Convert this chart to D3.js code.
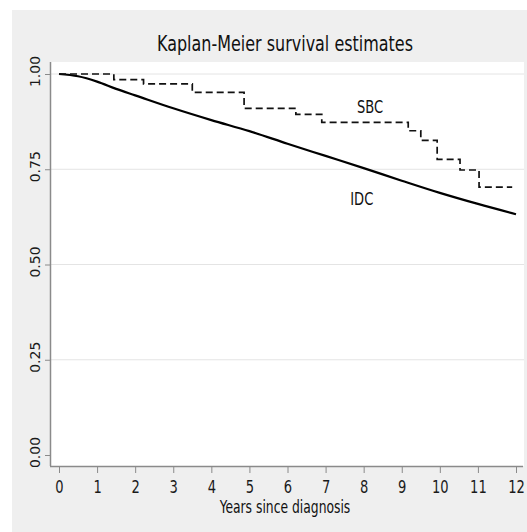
<!DOCTYPE html>
<html>
<head>
<meta charset="utf-8">
<script src="https://cdn.jsdelivr.net/npm/d3@7"></script>
<style>
  html, body { margin: 0; padding: 0; background: #ffffff; }
  svg { display: block; }
  .narrow { font-family: "Liberation Sans Narrow", "Arial Narrow", "DejaVu Sans Condensed", sans-serif; font-stretch: condensed; }
</style>
</head>
<body>
<script>
// Survival estimates (years since diagnosis -> survival probability)
const idcYears    = [0, 0.5, 1, 1.5, 2, 3, 4, 5, 6, 7, 8, 9, 10, 11, 12];
const idcSurvival = [1.000, 0.994, 0.980, 0.961, 0.944, 0.910, 0.879, 0.850, 0.817, 0.785, 0.753, 0.720, 0.688, 0.659, 0.632];

// Step function for the SBC group (time of each drop and survival after it)
const sbcTimes    = [0, 1.44, 2.22, 3.5, 4.86, 6.22, 6.9, 9.17, 9.5, 9.93, 10.53, 11.03, 11.9];
const sbcSurvival = [1.000, 0.985, 0.974, 0.952, 0.910, 0.894, 0.873, 0.851, 0.826, 0.776, 0.748, 0.703, 0.703];

const xTicks = [0, 1, 2, 3, 4, 5, 6, 7, 8, 9, 10, 11, 12];
const yTicks = [0, 0.25, 0.5, 0.75, 1];
const gridTicks = [0.25, 0.5, 0.75, 1];

const curveNames = ["SBC", "IDC"];
const curveLabelYears = [8.17, 7.95];
const curveLabelSurvival = [0.914, 0.674];

const chartTitle = "Kaplan-Meier survival estimates";
const xTitle = "Years since diagnosis";

// Layout
const W = 527, H = 532;
const plot = { left: 50, right: 524, top: 62, bottom: 466 };

const svg = d3.select("body").append("svg").attr("width", W).attr("height", H);

// Graph region background
svg.append("rect").attr("x", 12).attr("y", 10).attr("width", W - 12).attr("height", H - 10).attr("fill", "#efefef");
svg.append("rect").attr("x", plot.left).attr("y", plot.top)
  .attr("width", plot.right - plot.left).attr("height", plot.bottom - plot.top).attr("fill", "#ffffff");

const x = d3.scaleLinear().domain([0, 12]).range([59, 516]);
const y = d3.scaleLinear().domain([0, 1]).range([455, 74]);

// Horizontal grid
svg.append("g").selectAll("line").data(gridTicks).join("line")
  .attr("x1", plot.left).attr("x2", plot.right)
  .attr("y1", d => y(d)).attr("y2", d => y(d))
  .attr("stroke", "#e4e4e4").attr("stroke-width", 1);

// Y axis
const yAxis = svg.append("g").attr("transform", `translate(${plot.left},0)`)
  .call(d3.axisLeft(y).tickValues(yTicks).tickFormat(d3.format(".2f")).tickSize(5).tickPadding(0));
yAxis.select(".domain").attr("d", `M0.5,${plot.top}V${plot.bottom}`).attr("stroke", "#8a8a8a").attr("stroke-width", 1.5);
yAxis.selectAll(".tick line").attr("stroke", "#8a8a8a");
yAxis.selectAll(".tick text")
  .attr("font-family", "'DejaVu Sans', Verdana, sans-serif")
  .attr("font-size", 14).attr("fill", "#1a1a1a")
  .attr("text-anchor", "middle")
  .attr("x", null).attr("dy", null)
  .attr("transform", "translate(-10,-3) rotate(-90)");

// X axis
const xAxis = svg.append("g").attr("transform", `translate(0,${plot.bottom})`)
  .call(d3.axisBottom(x).tickValues(xTicks).tickFormat(d3.format("d")).tickSize(7).tickPadding(7));
xAxis.select(".domain").attr("d", `M${plot.left},0.5H${plot.right - 1}`).attr("stroke", "#8a8a8a").attr("stroke-width", 1.5);
xAxis.selectAll(".tick line").attr("stroke", "#8a8a8a");
const xTickText = xAxis.selectAll(".tick text").attr("class", "narrow").attr("font-size", 18).attr("fill", "#1a1a1a");

// Curves
const idcLine = d3.line().x((d, i) => x(idcYears[i])).y(d => y(d)).curve(d3.curveMonotoneX);
svg.append("path").datum(idcSurvival).attr("d", idcLine)
  .attr("fill", "none").attr("stroke", "#000").attr("stroke-width", 2.2).attr("stroke-linejoin", "round");

const sbcLine = d3.line().x((d, i) => x(sbcTimes[i])).y(d => y(d)).curve(d3.curveStepAfter);
svg.append("path").datum(sbcSurvival).attr("d", sbcLine)
  .attr("fill", "none").attr("stroke", "#111").attr("stroke-width", 1.7).attr("stroke-dasharray", "7,4");

// Curve labels
const curveText = svg.append("g").selectAll("text").data(curveNames).join("text")
  .attr("class", "narrow")
  .attr("x", (d, i) => x(curveLabelYears[i]))
  .attr("y", (d, i) => y(curveLabelSurvival[i]))
  .attr("dy", "0.36em")
  .attr("text-anchor", "middle").attr("font-size", 18).attr("fill", "#111")
  .text(d => d);

// Titles
const title = svg.append("text").attr("class", "narrow")
  .attr("x", 285).attr("y", 51).attr("text-anchor", "middle")
  .attr("font-size", 22).attr("fill", "#111").text(chartTitle);
const xt = svg.append("text").attr("class", "narrow")
  .attr("x", 285).attr("y", 513).attr("text-anchor", "middle")
  .attr("font-size", 17).attr("fill", "#111").text(xTitle);

// Keep the condensed look even when only a regular-width face is available
const squeeze = Math.min(1, 256 / title.node().getComputedTextLength());
function condense(sel) {
  sel.each(function () {
    const len = this.getComputedTextLength();
    if (squeeze < 0.97) {
      d3.select(this).attr("textLength", len * squeeze).attr("lengthAdjust", "spacingAndGlyphs");
    }
  });
}
condense(title);
condense(xt);
condense(curveText);
condense(xTickText);
</script>
</body>
</html>
